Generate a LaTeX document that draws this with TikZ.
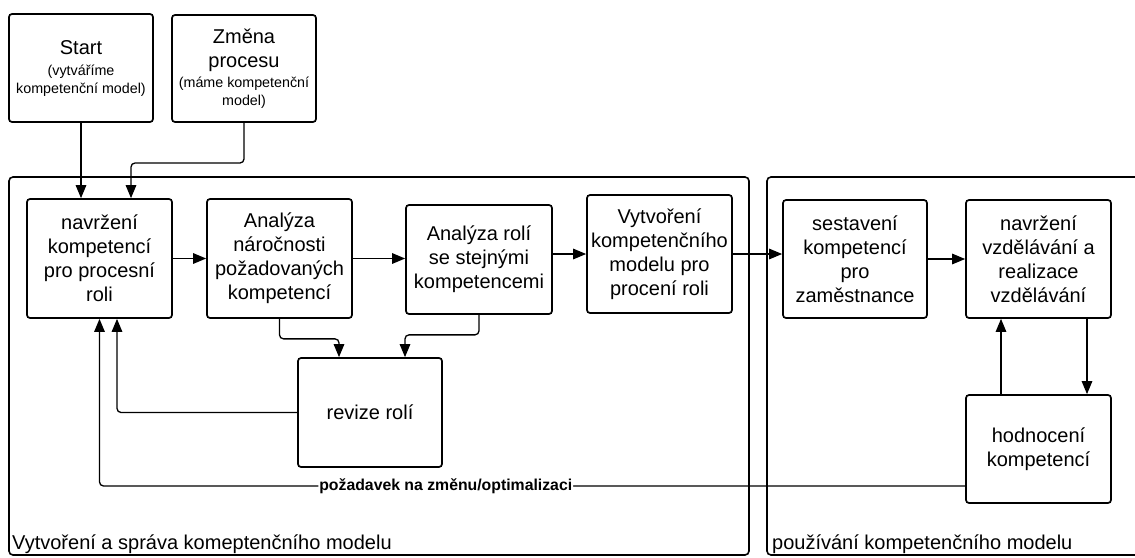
\documentclass[tikz,border=0pt]{standalone}
\usepackage{fontspec}
\setmainfont{Liberation Sans}
\usetikzlibrary{arrows.meta}
\newcommand\smalltxt{\fontsize{14.3}{18}\selectfont}

\begin{document}
\begin{tikzpicture}[x=1pt, y=-1pt,
  every node/.style={font=\fontsize{20}{24}\selectfont, inner sep=0pt},
  box/.style={draw, line width=1.7pt, rounded corners=3pt, align=center, minimum width=145pt, minimum height=119pt},
  conn/.style={line width=1.3pt, rounded corners=4pt, -{Triangle[length=13pt,width=10.5pt]}},
  group/.style={line width=1.6pt, rounded corners=4pt}]
\useasboundingbox (0,0) rectangle (1135,557);
% the two areas
\draw[group] (9,177) rectangle (749,555);
\draw[group] (767,177) rectangle (1150,555);
\node[anchor=base west] (areaA) at (12,549) {Vytvoření a správa komeptenčního modelu};
\node[anchor=base west] (areaB) at (772,549) {používání kompetenčního modelu};
% entry points
\node[box, minimum width=144pt, minimum height=108pt] (start) at (81,68)
  {Start\\[-3pt]\smalltxt (vytváříme\\[-6pt]\smalltxt kompetenční model)};
\node[box, minimum width=144pt, minimum height=107pt] (zmena) at (244,68.5)
  {Změna\\procesu\\[-4pt]\smalltxt (máme kompetenční\\[-6pt]\smalltxt model)};
% steps
\node[box] (navrh) at (99.5,258.5) {navržení\\kompetencí\\pro procesní\\roli};
\node[box] (narocnost) at (279.5,258.5) {Analýza\\náročnosti\\požadovaných\\kompetencí};
\node[box, minimum width=146pt, minimum height=109pt] (role) at (479,259.5) {Analýza rolí\\se stejnými\\kompetencemi};
\node[box, minimum height=118pt] (model) at (659.5,254) {Vytvoření\\kompetenčního\\modelu pro\\procení roli};
\node[box, minimum width=144pt, minimum height=109pt] (revize) at (370,412.5) {revize rolí};
\node[box, minimum width=144pt, minimum height=118pt] (sestav) at (855,259) {sestavení\\kompetencí\\pro\\zaměstnance};
\node[box, minimum height=118pt] (vzdel) at (1038.5,259) {navržení\\vzdělávání a\\realizace\\vzdělávání};
\node[box, minimum height=108pt] (hodn) at (1038.5,449) {hodnocení\\kompetencí};
% connectors
\draw[conn] (start) -- (start |- navrh.north);
\draw[conn] (zmena) |- (131,163) -- ([xshift=31.5pt]navrh.north);
\draw[conn] (navrh) -- (narocnost);
\draw[conn] (narocnost.east) -- (narocnost.east -| role.west);
\draw[conn] (role.east |- model.west) -- (model.west);
\draw[conn] (model.east) -- (model.east -| sestav.west);
\draw[conn] (sestav) -- (vzdel);
\draw[conn] ([xshift=48.5pt]vzdel.south) -- ([xshift=48.5pt]hodn.north);
\draw[conn] ([xshift=-37.5pt]hodn.north) -- ([xshift=-37.5pt]vzdel.south);
\draw[conn] (narocnost.south) -- ++(0,20) -| ([xshift=-31pt]revize.north);
\draw[conn] (role.south) -- ++(0,20) -| ([xshift=35pt]revize.north);
\draw[conn] (revize.west) -| ([xshift=17.5pt]navrh.south);
\draw[conn] ([yshift=-37pt]hodn.west) -| node[pos=0.3, fill=white, inner sep=1pt,
  font=\bfseries\fontsize{15.8}{18}\selectfont] (zmenaLbl) {požadavek na změnu/optimalizaci} (navrh.south);
\end{tikzpicture}
\end{document}
